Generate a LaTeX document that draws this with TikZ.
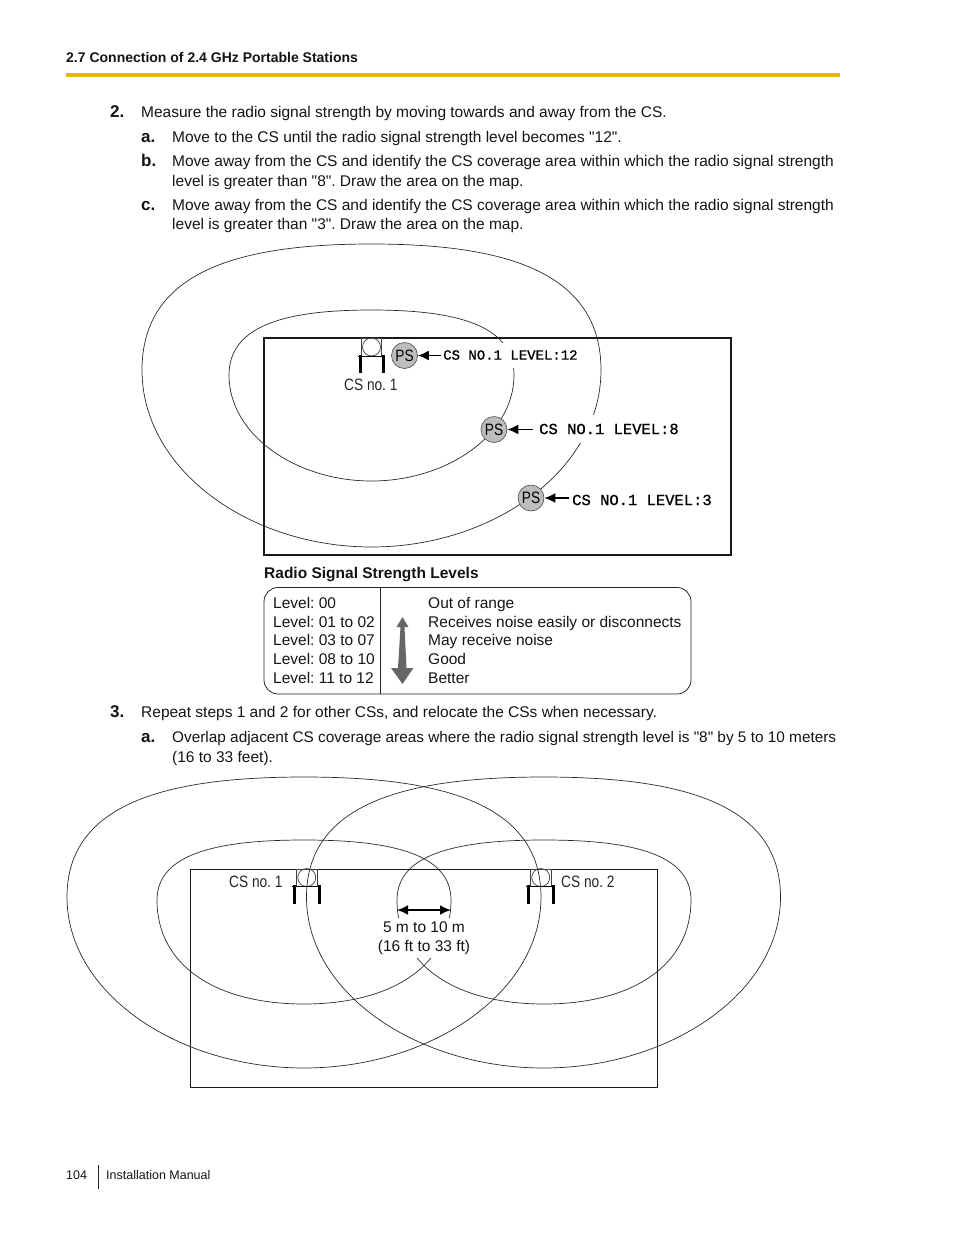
\documentclass[tikz,border=0pt]{standalone}
\usepackage{fontspec}
\usetikzlibrary{arrows.meta}
\newfontfamily\plainf{Liberation Sans}
\newfontfamily\monof[FakeBold=1]{Liberation Mono}
\newfontfamily\narrowf[FakeStretch=0.83]{Liberation Sans}
\definecolor{rulegold}{HTML}{E3BC00}
\definecolor{psgray}{HTML}{BDBDBD}
\definecolor{arrowgray}{HTML}{666666}
\definecolor{curvegray}{HTML}{2A2A2A}
\newcommand{\covarea}[7]{% cx, mid y, half width, rise, fall, lower y factor, lower x factor
  \draw[curve] ({#1-#3},#2)
    .. controls ({#1-#3},{#2-.79*#4}) and ({#1-.57*#3},{#2-#4}) .. (#1,{#2-#4})
    .. controls ({#1+.57*#3},{#2-#4}) and ({#1+#3},{#2-.79*#4}) .. ({#1+#3},#2)
    .. controls ({#1+#3},{#2+#6*#5}) and ({#1+#7*#3},{#2+#5}) .. (#1,{#2+#5})
    .. controls ({#1-#7*#3},{#2+#5}) and ({#1-#3},{#2+#6*#5}) .. ({#1-#3},#2) -- cycle;}
\newcommand{\csunit}[7]{% sq left, sq top, sq right, sq bottom, leg left, leg right, leg bottom
  \draw[thin line] (#1,#2) rectangle (#3,#4);
  \draw[thin line] ({(#1+#3)/2},{#2+.5*(#4-#2)}) circle[radius=9];
  \draw[line width=1pt] (#5-2,#4) -- (#6+2,#4);
  \draw[leg] (#5,#4-1) -- (#5,#7);
  \draw[leg] (#6,#4-1) -- (#6,#7);}
\tikzset{
  curve/.style={line width=.7pt,draw=curvegray},
  thin line/.style={line width=.7pt,draw=black!75},
  leg/.style={line width=3pt,draw=black},
  room/.style={line width=1.5pt,draw=black!90},
  room2/.style={line width=1.1pt,draw=black!90},
  body/.style={anchor=base west,inner sep=0pt,font=\plainf\frenchspacing\fontsize{15.5}{18}\selectfont,text=black!92},
  bodyb/.style={body,font=\plainf\frenchspacing\fontsize{15.5}{18}\selectfont\bfseries},
  bullet/.style={body,font=\plainf\fontsize{17}{18}\selectfont\bfseries},
  tight/.style={body,font=\plainf\frenchspacing\fontsize{15.36}{18}\selectfont},
  small/.style={anchor=base west,inner sep=0pt,font=\plainf\frenchspacing\fontsize{12.5}{16}\selectfont,text=black!92},
  cslabel/.style={anchor=base west,inner sep=0pt,font=\narrowf\frenchspacing\fontsize{16.5}{18}\selectfont,text=black!85},
  pst/.style={circle,draw=black!70,line width=.6pt,fill=psgray,minimum size=26pt,inner sep=0pt,font=\narrowf\fontsize{16.5}{18}\selectfont},
  lvl/.style={anchor=west,fill=white,inner xsep=2pt,inner ysep=0pt,minimum height=25pt,font=\monof\fontsize{14}{16}\selectfont},
  lvlb/.style={anchor=west,fill=white,inner xsep=2pt,inner ysep=0pt,minimum height=28pt,font=\monof\fontsize{15.5}{16}\selectfont},
  point/.style={-{Latex[length=11pt,width=10pt]},line width=1.8pt,draw=black},
  span/.style={{Latex[length=11pt,width=10pt]}-{Latex[length=11pt,width=10pt]},line width=2pt,draw=black},
}
\begin{document}
\begin{tikzpicture}[x=1pt,y=-1pt]
\useasboundingbox (0,0) rectangle (954,1235);
% header
\node[anchor=base west,inner sep=0pt,font=\plainf\fontsize{14}{16}\selectfont\bfseries,text=black!92] (hdr) at (66,62) {2.7 Connection of 2.4 GHz Portable Stations};
\fill[rulegold] (66,72.5) rectangle (840,77);
% steps
\node[bullet] (s2) at (110,117) {2.};
\node[body] (s2t) at (141,117) {Measure the radio signal strength by moving towards and away from the CS.};
\node[bullet] (sa) at (141,142) {a.};
\node[body] (sat) at (172,142) {Move to the CS until the radio signal strength level becomes "12".};
\node[bullet] (sb) at (141,166) {b.};
\node[body] (sbt) at (172,166) {Move away from the CS and identify the CS coverage area within which the radio signal strength};
\node[body] (sbu) at (172,186) {level is greater than "8". Draw the area on the map.};
\node[bullet] (sc) at (141,210) {c.};
\node[body] (sct) at (172,210) {Move away from the CS and identify the CS coverage area within which the radio signal strength};
\node[body] (scu) at (172,229) {level is greater than "3". Draw the area on the map.};
% figure 1
\draw[room] (264,338) rectangle (731,555);
\covarea{371.5}{370}{229.5}{126}{177}{.565}{.53}
\covarea{371.5}{375}{142.5}{65}{106}{.565}{.53}
\csunit{361.5}{338}{381.5}{356}{360}{383}{373}
\node[cslabel] (cs1) at (344,390.5) {CS no. 1};
\node[lvl] (l12) at (441,355) {CS NO.1 LEVEL:12};
\node[lvlb] (l8) at (537,429) {CS NO.1 LEVEL:8};
\node[lvlb] (l3) at (570,500) {CS NO.1 LEVEL:3};
\node[pst] (p12) at (404.5,355.5) {PS};
\node[pst] (p8) at (494,429.5) {PS};
\node[pst] (p3) at (531,498) {PS};
\draw[point] (l12.west |- p12.east) -- (p12.east);
\draw[point,shorten <=4pt] (l8.west |- p8.east) -- (p8.east);
\draw[point,shorten <=1pt] (l3.west |- p3.east) -- (p3.east);
% table
\node[bodyb] (tt) at (264,578) {Radio Signal Strength Levels};
\draw[line width=.8pt,draw=black!85,rounded corners=14pt] (264,587.5) rectangle (691,694);
\draw[line width=.8pt,draw=black!85] (380.5,587.5) -- (380.5,694);
\foreach \n/\y/\a/\b in {1/608/Level: 00/Out of range,2/627/Level: 01 to 02/Receives noise easily or disconnects,3/645/Level: 03 to 07/May receive noise,4/664/Level: 08 to 10/Good,5/683/Level: 11 to 12/Better}{
  \node[body] (la\n) at (273,\y) {\a};
  \node[body] (lb\n) at (428,\y) {\b};
}
\fill[arrowgray] (402.5,617) -- (408.5,627) -- (404.5,627) -- (406.5,668) -- (413.5,668) -- (402.5,684) -- (391,668) -- (398,668) -- (400.5,627) -- (396.5,627) -- cycle;
% step 3
\node[bullet] (s3) at (110,717) {3.};
\node[body] (s3t) at (141,717) {Repeat steps 1 and 2 for other CSs, and relocate the CSs when necessary.};
\node[bullet] (s3a) at (141,742) {a.};
\node[tight] (s3at) at (172,742) {Overlap adjacent CS coverage areas where the radio signal strength level is "8" by 5 to 10 meters};
\node[body] (s3au) at (172,762) {(16 to 33 feet).};
% figure 2
\draw[room2] (190.5,869.5) rectangle (657.5,1087.5);
\csunit{296.5}{869}{317}{886}{294}{319}{904}
\csunit{530.5}{869}{551}{886}{528}{553}{904}
\covarea{304}{897}{237}{120}{171}{.565}{.53}
\covarea{543.5}{897}{237}{120}{171}{.565}{.53}
\covarea{304}{900}{147}{60}{104}{.63}{.6}
\covarea{544}{900}{147}{60}{104}{.63}{.6}
\node[cslabel] (c1) at (229,887) {CS no. 1};
\node[cslabel] (c2) at (561,887) {CS no. 2};
\node[fill=white,inner xsep=3pt,inner ysep=0pt,minimum width=98pt,minimum height=40pt,align=center,font=\plainf\fontsize{15.5}{19.5}\selectfont,text=black!92] (dist) at (424,938) {5 m to 10 m\\(16 ft to 33 ft)};
\coordinate (dl) at (397,910);
\coordinate (dr) at (451,910);
\draw[span] (dl) -- (dr);
% footer
\node[small] (pg) at (66,1179.5) {104};
\draw[line width=.8pt,draw=black!85] (98,1165) -- (98,1189);
\node[small] (fm) at (106,1179.5) {Installation Manual};
\end{tikzpicture}
\end{document}
